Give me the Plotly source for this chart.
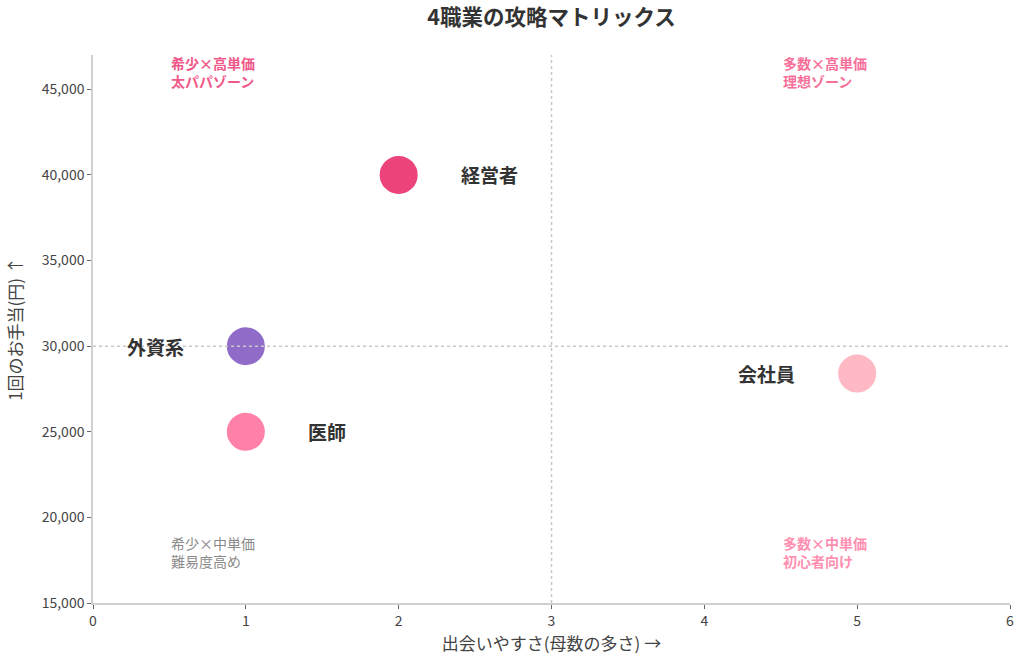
import plotly.graph_objects as go

jobs = ['経営者', '外資系', '医師', '会社員']
encounter = [2, 1, 1, 5]
allowance = [40000, 30000, 25000, 28400]
colors = ['#EC3A73', '#8B65C6', '#FF7BA3', '#FFB6C1']
label_side = ['right', 'left', 'right', 'left']

zones = ['希少×高単価<br>太パパゾーン', '多数×高単価<br>理想ゾーン',
         '希少×中単価<br>難易度高め', '多数×中単価<br>初心者向け']
zone_x = [0.5, 4.5, 0.5, 4.5]
zone_y = [46000, 46000, 17950, 17950]
zone_colors = ['#F0588A', '#F7709A', '#8A8A8A', '#FF8FB1']

font = 'Noto Sans CJK JP'

fig = go.Figure()
fig.add_trace(go.Scatter(
    x=encounter, y=allowance, mode='markers',
    marker=dict(size=40, color=colors, opacity=0.95,
                line=dict(color='white', width=2)),
    hoverinfo='text', text=jobs, showlegend=False,
))

for name, xv, yv, side in zip(jobs, encounter, allowance, label_side):
    fig.add_annotation(x=xv, y=yv, text='<b>' + name + '</b>', showarrow=False,
                       xshift=60 if side == 'right' else -60,
                       xanchor='left' if side == 'right' else 'right',
                       font=dict(size=19, color='#333333', family=font))

for txt, xv, yv, c in zip(zones, zone_x, zone_y, zone_colors):
    if c == '#8A8A8A':
        label = txt
    else:
        label = '<b>' + txt.replace('<br>', '</b><br><b>') + '</b>'
    fig.add_annotation(x=xv, y=yv, text=label, showarrow=False, xanchor='left',
                       align='left', font=dict(size=14, color=c, family=font))

fig.add_vline(x=3, line=dict(color='#C8C8C8', width=1.5, dash='dot'))
fig.add_hline(y=30000, line=dict(color='#C8C8C8', width=1.5, dash='dot'))

fig.update_layout(
    width=1024, height=662,
    paper_bgcolor='white', plot_bgcolor='white',
    margin=dict(l=93, r=14, t=55, b=59),
    font=dict(family=font, color='#444444', size=14),
    title=dict(text='<b>4職業の攻略マトリックス</b>', xref='paper', x=0.5, xanchor='center',
               y=0.973, yanchor='middle', font=dict(size=21.5, color='#333333')),
    xaxis=dict(range=[0, 6], dtick=1, showgrid=False, zeroline=False, automargin=False,
               showline=True, linecolor='#D0D0D0', linewidth=1.5,
               ticks='outside', tickcolor='#666666', ticklen=4,
               title=dict(text='出会いやすさ(母数の多さ) →', font=dict(size=17), standoff=10)),
    yaxis=dict(range=[15000, 47000], tickvals=[15000, 20000, 25000, 30000, 35000, 40000, 45000],
               tickformat=',d', showgrid=False, zeroline=False, automargin=False,
               showline=True, linecolor='#D0D0D0', linewidth=1.5,
               ticks='outside', tickcolor='#666666', ticklen=4,
               title=dict(text='1回のお手当(円) ↑', font=dict(size=17))),
)

fig.write_html('out.html', config={'displayModeBar': False},
               post_script="document.body.style.margin='0';")
